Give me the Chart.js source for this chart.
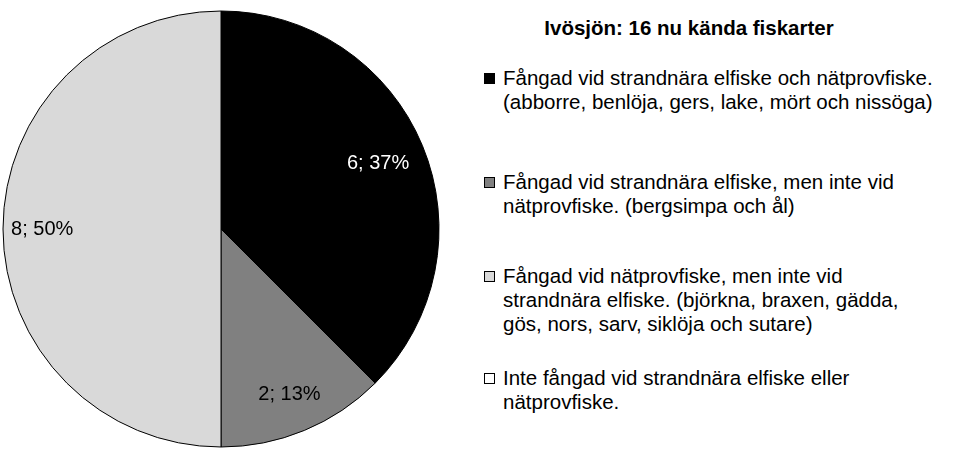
<!DOCTYPE html>
<html><head><meta charset="utf-8">
<script src="https://cdn.jsdelivr.net/npm/chart.js@4"></script>
<style>
body{margin:0;width:959px;height:450px;background:#fff;font-family:"Liberation Sans",Arial,sans-serif;position:relative;overflow:hidden}
#wrap{position:absolute;left:0;top:0;width:442px;height:450px}
#title{position:absolute;left:470px;width:438px;top:16px;text-align:center;font-weight:bold;font-size:20.5px}
.item{position:absolute;left:484px;font-size:20.5px;line-height:24px;color:#000}
.item span.sw{position:absolute;left:0;top:7px;width:11px;height:11px;border:1px solid #000;box-sizing:border-box}
.item div{margin-left:19px;white-space:nowrap}
</style></head><body>
<div id="wrap"><canvas id="c"></canvas></div>
<div id="title">Ivösjön: 16 nu kända fiskarter</div>
<div id="legend"></div>
<script>
const categories=[
 ["Fångad vid strandnära elfiske och nätprovfiske.","(abborre, benlöja, gers, lake, mört och nissöga)"],
 ["Fångad vid strandnära elfiske, men inte vid","nätprovfiske. (bergsimpa och ål)"],
 ["Fångad vid nätprovfiske, men inte vid","strandnära elfiske. (björkna, braxen, gädda,","gös, nors, sarv, siklöja och sutare)"],
 ["Inte fångad vid strandnära elfiske eller","nätprovfiske."]
];
const values=[6,2,8,0];
const percentLabels=["37%","13%","50%","0%"];
const colors=["#000000","#808080","#d9d9d9","#ffffff"];
const labelColors=["#ffffff","#000000","#000000","#000000"];
const tops=[66,170,264,366];
const lg=document.getElementById('legend');
categories.forEach((c,i)=>{const d=document.createElement('div');d.className='item';d.style.top=tops[i]+'px';
 d.innerHTML='<span class="sw" style="background:'+colors[i]+'"></span><div>'+c.join('<br>')+'</div>';lg.appendChild(d);});
const labelPlugin={id:'lbl',afterDatasetsDraw(chart){const ctx=chart.ctx;const meta=chart.getDatasetMeta(0);
 ctx.save();ctx.font='20px "Liberation Sans", Arial';ctx.textAlign='center';ctx.textBaseline='middle';
 meta.data.forEach((a,i)=>{if(!values[i])return;ctx.fillStyle=labelColors[i];const ang=(a.startAngle+a.endAngle)/2;const r=a.outerRadius*[0.78,0.82,0.82][i];
 ctx.fillText(values[i]+'; '+percentLabels[i],a.x+Math.cos(ang)*r,a.y+Math.sin(ang)*r);});ctx.restore();}};
new Chart(document.getElementById('c'),{type:'pie',
 data:{labels:categories.map(c=>c.join(' ')),datasets:[{data:values,backgroundColor:colors,borderColor:'#000',borderWidth:1,radius:218}]},
 options:{responsive:true,maintainAspectRatio:false,animation:false,layout:{padding:{top:8,bottom:0}},
 plugins:{legend:{display:false},tooltip:{enabled:false}}},plugins:[labelPlugin]});
</script></body></html>
